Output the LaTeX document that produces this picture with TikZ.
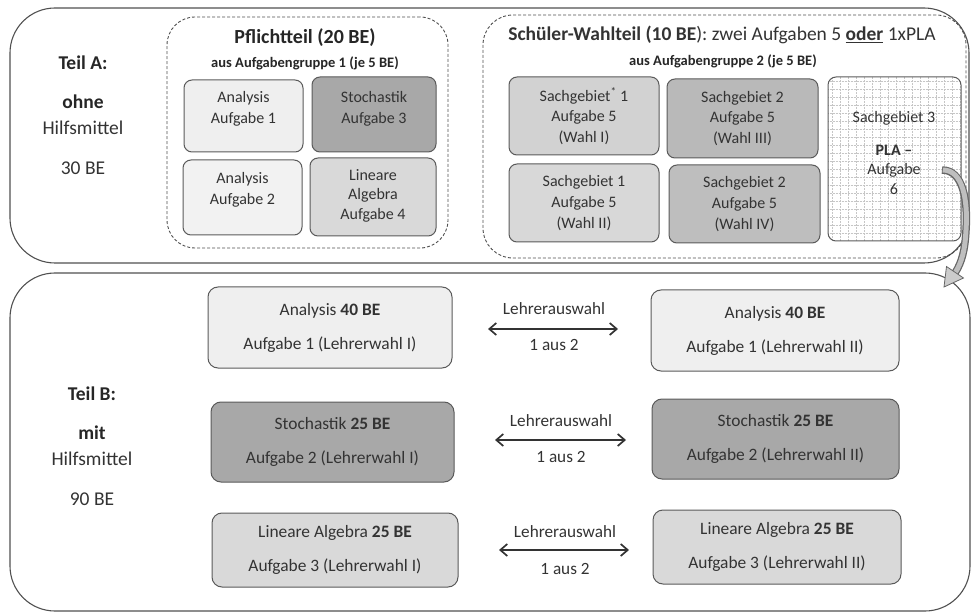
\documentclass[tikz,border=0pt]{standalone}
\usepackage{fontspec}
\setmainfont{Carlito}
\usetikzlibrary{arrows.meta,calc}
\definecolor{txt}{HTML}{333333}
\definecolor{frameC}{HTML}{505050}
\definecolor{boxC}{HTML}{5A5A5A}
\definecolor{cA}{HTML}{EFEFEF}
\definecolor{cB}{HTML}{A8A8A8}
\definecolor{cC}{HTML}{F2F2F2}
\definecolor{cD}{HTML}{D9D9D9}
\definecolor{cS1}{HTML}{D2D2D2}
\definecolor{cS2}{HTML}{B9B9B9}
\definecolor{cS3}{HTML}{D8D8D8}
\definecolor{cS4}{HTML}{BEBEBE}
\newcommand{\fsz}[2]{\fontsize{#1}{#2}\selectfont}
\begin{document}
\begin{tikzpicture}[x=1pt,y=-1pt,
  frame/.style={draw=frameC, line width=1.1pt, rounded corners=45pt, inner sep=0pt},
  dashbox/.style={draw=frameC, line width=0.9pt, dash pattern=on 3pt off 2pt, rounded corners=28pt, inner sep=0pt},
  tbox/.style={draw=boxC, line width=1pt, rounded corners=8pt, inner sep=0pt, align=center, text=txt, font=\fsz{16}{20.7}},
  bbox/.style={draw=boxC, line width=1pt, rounded corners=10pt, inner sep=0pt, align=center, text=txt, font=\fsz{17.4}{21}},
  ttext/.style={text=txt, align=center, inner sep=0pt, font=\fsz{16}{20.7}},
  side/.style={text=txt, inner sep=0pt, font=\fsz{19.5}{23}},
  sideb/.style={text=black!85, inner sep=0pt, font=\fsz{19.5}{23}\bfseries},
  lbl/.style={text=txt, inner sep=0pt, font=\fsz{17.2}{21}},
  gridline/.style={draw=gray!45, line width=0.5pt, densely dotted},
  dbl/.style={{Straight Barb[length=7pt,width=12pt]}-{Straight Barb[length=7pt,width=12pt]}, line width=1.7pt, draw=black!80}
]
\useasboundingbox (0,0) rectangle (972,612);

% outer frames
\node[frame, minimum width=959, minimum height=255] (teilA) at (489.5,135.5) {};
\node[frame, minimum width=960, minimum height=338] (teilB) at (490,442) {};

% Teil A labels
\node[sideb] (tA1) at (83,63) {Teil A:};
\node[sideb] (tA2) at (83,102) {ohne};
\node[side] (tA3) at (83,128) {Hilfsmittel};
\node[side] (tA4) at (83,168) {30 BE};

% Pflichtteil
\node[dashbox, minimum width=281, minimum height=231] (pflicht) at (307.5,132.5) {};
\node[text=black!85, inner sep=0pt, font=\fsz{20}{24}] (pflT) at (305,38) {\textbf{Pflichtteil (20 BE}\textbf{)}};
\node[text=black!85, inner sep=0pt, font=\fsz{14.5}{17}\bfseries] (pflS) at (305,63) {aus Aufgabengruppe 1 (je 5 BE)};

\node[tbox, fill=cA, minimum width=119, minimum height=72] (p1) at (243.5,116) {};
\node[ttext] (p1t) at (243.5,108.5) {Analysis\\Aufgabe 1};
\node[tbox, fill=cB, minimum width=124, minimum height=75] (p3) at (374,114.5) {};
\node[ttext] (p3t) at (374,108.5) {Stochastik\\Aufgabe 3};
\node[tbox, fill=cC, minimum width=119, minimum height=75] (p2) at (242.5,197.5) {};
\node[ttext] (p2t) at (242.5,189.5) {Analysis\\Aufgabe 2};
\node[tbox, fill=cD, minimum width=126, minimum height=78] (p4) at (373,197) {};
\node[ttext, font=\fsz{16}{19.5}] (p4t) at (373,195.5) {Lineare\\Algebra\\Aufgabe 4};

% Schueler-Wahlteil
\node[dashbox, rounded corners=30pt, minimum width=483, minimum height=243] (wahl) at (724.5,136.5) {};
\node[text=txt, inner sep=0pt, font=\fsz{19.5}{23}] (wahlT) at (722,35) {\textbf{Schüler-Wahlteil (10 BE}): zwei Aufgaben 5 \underline{\textbf{oder}} 1xPLA};
\node[text=black!85, inner sep=0pt, font=\fsz{14.5}{17}\bfseries] (wahlS) at (723,61) {aus Aufgabengruppe 2 (je 5 BE)};

\node[tbox, fill=cS1, minimum width=150, minimum height=78] (s1) at (584,116) {Sachgebiet\textsuperscript{*} 1\\Aufgabe 5\\(Wahl I)};
\node[tbox, fill=cS2, minimum width=151, minimum height=79] (s3) at (742.5,118.5) {Sachgebiet 2\\Aufgabe 5\\(Wahl III)};
\node[tbox, fill=cS3, minimum width=150, minimum height=78] (s2) at (584,203) {Sachgebiet 1\\Aufgabe 5\\(Wahl II)};
\node[tbox, fill=cS4, minimum width=151, minimum height=78] (s4) at (744.5,204) {Sachgebiet 2\\Aufgabe 5\\(Wahl IV)};

% PLA box with grid
\begin{scope}
  \clip[rounded corners=8pt] (828,77) rectangle (961,241);
  \fill[white] (828,77) rectangle (961,241);
  \foreach \gx in {832,840,...,960} {\draw[gridline] (\gx,77) -- (\gx,241);}
  \foreach \gy in {81,89,...,241} {\draw[gridline] (828,\gy) -- (961,\gy);}
\end{scope}
\node[tbox, minimum width=133, minimum height=164] (pla) at (894.5,159) {};
\node[ttext] (plat1) at (894,118) {Sachgebiet 3};
\node[ttext, font=\fsz{16}{19.5}] (plat2) at (894,169.5) {\textbf{PLA –}\\Aufgabe\\6};

% curved block arrow
\coordinate (cu0) at (942,170);
\coordinate (cu1) at (955,273);
\draw[line width=7.5pt, draw=black!60] (cu0) .. controls (963,170) and (968,200) .. (966,230) .. controls (965,250) and (962,262) .. (cu1);
\draw[line width=5pt, draw=black!25] ([xshift=0.8pt]cu0) .. controls (963,170) and (968,200) .. (966,230) .. controls (965,250) and (962,262) .. (cu1);
\filldraw[fill=black!20, draw=black!60, line width=0.8pt, line join=miter] (944,287) -- (946.5,266.5) -- (963.5,278) -- cycle;

% Teil B labels
\node[sideb] (tB1) at (92,394) {Teil B:};
\node[sideb] (tB2) at (92,433) {mit};
\node[side] (tB3) at (92,459) {Hilfsmittel};
\node[side] (tB4) at (92,499) {90 BE};

% Teil B boxes
\node[bbox, fill=cA, minimum width=244, minimum height=81] (bA1) at (330,327.5) {Analysis \textbf{40 BE}\\[13pt]Aufgabe 1 (Lehrerwahl I)};
\node[bbox, fill=cA, minimum width=248, minimum height=81] (bA2) at (775,330.5) {Analysis \textbf{40 BE}\\[13pt]Aufgabe 1 (Lehrerwahl II)};
\node[bbox, fill=cB, minimum width=243, minimum height=80] (bS1) at (332.5,442) {Stochastik \textbf{25 BE}\\[13pt]Aufgabe 2 (Lehrerwahl I)};
\node[bbox, fill=cB, minimum width=247, minimum height=80] (bS2) at (775.5,439) {Stochastik \textbf{25 BE}\\[13pt]Aufgabe 2 (Lehrerwahl II)};
\node[bbox, fill=cD, minimum width=246, minimum height=74] (bL1) at (335,550) {Lineare Algebra \textbf{25 BE}\\[13pt]Aufgabe 3 (Lehrerwahl I)};
\node[bbox, fill=cD, minimum width=248, minimum height=74] (bL2) at (777,547) {Lineare Algebra \textbf{25 BE}\\[13pt]Aufgabe 3 (Lehrerwahl II)};

% teacher choice arrows
\coordinate (r1a) at (488,329); \coordinate (r1b) at (618,329);
\node[lbl] (l1a) at (554,309) {Lehrerauswahl};
\node[lbl] (l1b) at (554,345) {1 aus 2};
\draw[dbl] (r1a) -- (r1b);
\coordinate (r2a) at (495,440); \coordinate (r2b) at (626,440);
\node[lbl] (l2a) at (561,421) {Lehrerauswahl};
\node[lbl] (l2b) at (561,457) {1 aus 2};
\draw[dbl] (r2a) -- (r2b);
\coordinate (r3a) at (499,550); \coordinate (r3b) at (629,550);
\node[lbl] (l3a) at (565,532) {Lehrerauswahl};
\node[lbl] (l3b) at (565,569) {1 aus 2};
\draw[dbl] (r3a) -- (r3b);
\end{tikzpicture}
\end{document}
